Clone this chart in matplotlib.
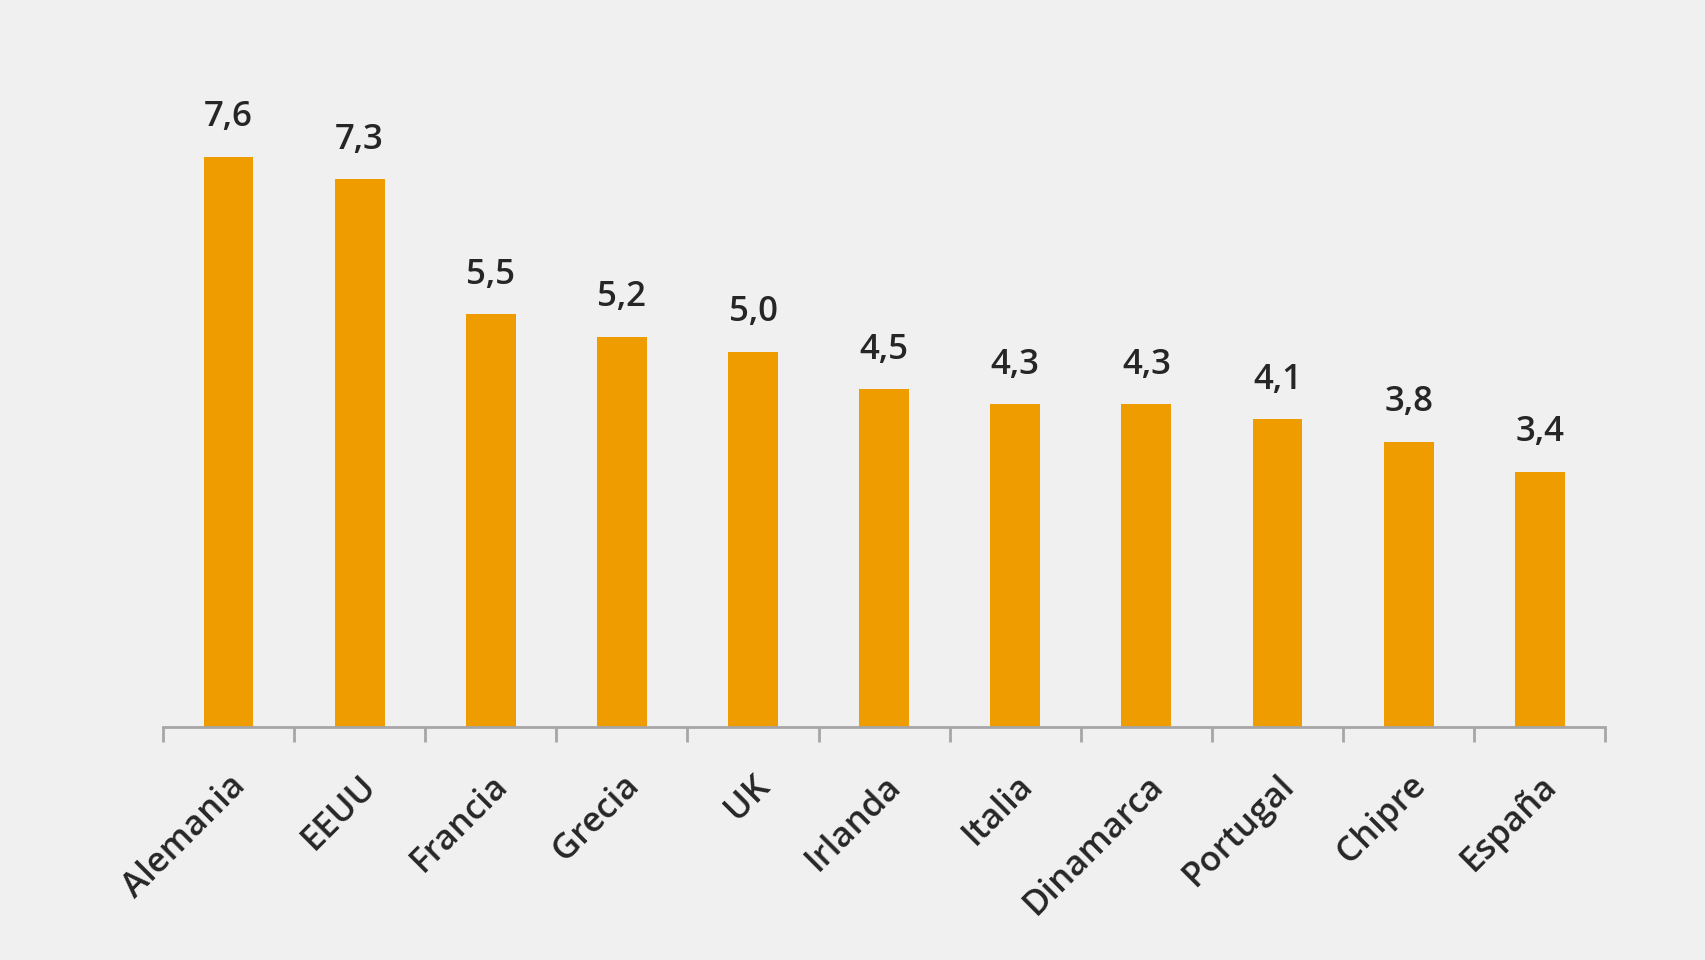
import numpy as np
import matplotlib.pyplot as plt

# datos
paises = ["Alemania", "EEUU", "Francia", "Grecia", "UK", "Irlanda", "Italia",
          "Dinamarca", "Portugal", "Chipre", "España"]
valores = [7.6, 7.3, 5.5, 5.2, 5.0, 4.5, 4.3, 4.3, 4.1, 3.8, 3.4]
etiquetas = ["7,6", "7,3", "5,5", "5,2", "5,0", "4,5", "4,3", "4,3", "4,1", "3,8", "3,4"]

fondo = "#f0f0f0"
naranja = "#ee9c00"
texto = "#262626"

plt.rcParams['font.family'] = ['Open Sans', 'DejaVu Sans']

fig = plt.figure(figsize=(17.06, 9.6), dpi=100, facecolor=fondo)
ax = fig.add_axes([0.0955, 0.2427, 0.8455, 0.7573])
ax.set_facecolor(fondo)

x = np.arange(len(paises))
barras = ax.bar(x, valores, width=0.38, color=naranja)

# etiquetas de valor
for xi, v, t in zip(x, valores, etiquetas):
    ax.annotate(t, (xi, v), textcoords="offset points", xytext=(0, 22),
                ha='center', va='baseline', fontsize=25, fontweight='semibold',
                color=texto)

ax.set_xlim(-0.5, len(paises) - 0.5)
ax.set_ylim(0, 9.69)

# ejes
for s in ["top", "right", "left"]:
    ax.spines[s].set_visible(False)
ax.spines["bottom"].set_color("#a6a6a6")
ax.spines["bottom"].set_linewidth(2)
ax.set_yticks([])

ax.set_xticks(x)
ax.set_xticklabels(paises, rotation=45, ha='right', rotation_mode='anchor',
                   fontsize=25, fontweight='semibold', color=texto)
ax.tick_params(axis='x', which='major', length=0, pad=30)
ax.set_xticks(np.arange(-0.5, len(paises)), minor=True)
ax.tick_params(axis='x', which='minor', length=11, width=2, color='#a6a6a6')

fig.savefig("out.png", dpi=100, facecolor=fondo)
